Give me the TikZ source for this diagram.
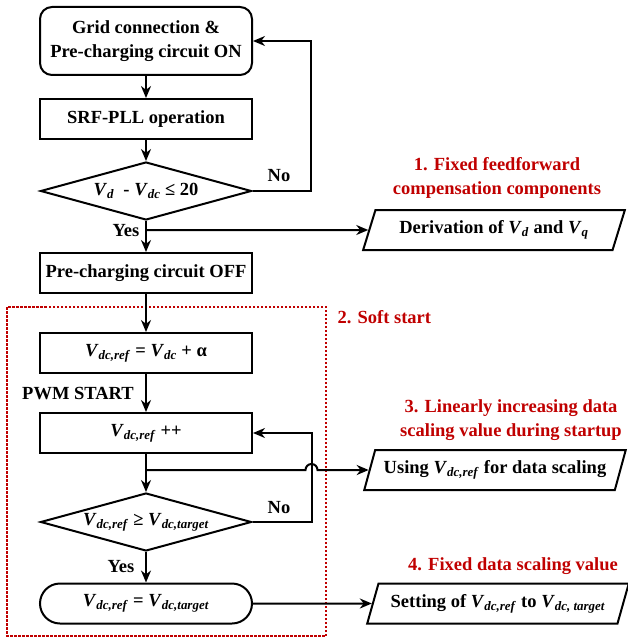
\documentclass[tikz,border=0pt]{standalone}
\usepackage{fontspec}
\setmainfont{Liberation Serif}
\usepackage{tikz}
\usetikzlibrary{arrows.meta,positioning,calc,shapes.geometric}
\definecolor{StepRed}{HTML}{C00000}
\newcommand{\vsub}[2]{\textit{#1}\textsubscript{\textit{#2}}}

\begin{document}
\begin{tikzpicture}[x=1pt,y=-1pt,font=\fontsize{18.5}{24}\selectfont\bfseries,box/.style={draw,line width=2pt,minimum width=212pt,minimum height=40pt,inner sep=1pt,align=center},startbox/.style={box,rounded corners=12pt,minimum height=68pt},endbox/.style={box,rounded corners=20pt},decision/.style={draw,line width=2pt,diamond,aspect=3.6,inner sep=0pt,minimum width=211pt,minimum height=58pt},iobox/.style={draw,line width=2pt,trapezium,trapezium left angle=64,trapezium right angle=116,trapezium stretches=true,minimum width=262pt,minimum height=40pt,inner sep=1pt},note/.style={text=StepRed,align=center},arrow/.style={-{Stealth[length=12pt,width=10pt]},line width=2pt}]
  \useasboundingbox (0,0) rectangle (628,639);
  \node[startbox] (grid) at (146,41) {Grid connection \&\\Pre-charging circuit ON};
  \node[box] (pll) at (146,119) {SRF-PLL operation};
  \node[decision] (chk1) at (146,191) {\vsub{V}{d}\ \ -\ \vsub{V}{dc} ≤\ 20};
  \node[box] (off) at (146,273) {Pre-charging circuit OFF};
  \node[box] (init) at (146,353) {\vsub{V}{dc,ref} = \vsub{V}{dc} + α};
  \node[box] (inc) at (146,433) {\vsub{V}{dc,ref} ++};
  \node[decision] (chk2) at (146,522) {\vsub{V}{dc,ref} ≥\ \vsub{V}{dc,target}};
  \node[endbox] (fix) at (146,603.5) {\vsub{V}{dc,ref} = \vsub{V}{dc,target}};
  \node[iobox] (ff) at (494,230) {Derivation of \vsub{V}{d} and \vsub{V}{q}};
  \node[iobox] (scale) at (495,470) {Using \vsub{V}{dc,ref} for data scaling};
  \node[iobox] (set) at (498,603.5) {Setting of \vsub{V}{dc,ref} to \vsub{V}{dc, target}};
  \node[note] (n1) at (497,178) {1. Fixed feedforward\\compensation components};
  \node[note,anchor=west] (n2) at (334,317) {2. Soft start};
  \node[note] (n3) at (511,420) {3. Linearly increasing data\\scaling value during startup};
  \node[note] (n4) at (513,566) {4. Fixed data scaling value};
  \node (no1) at (279,176) {No};
  \node (yes1) at (126,231) {Yes};
  \node (pwm) at (78,394) {PWM START};
  \node (no2) at (279,508) {No};
  \node (yes2) at (121,567) {Yes};
  \draw[StepRed,line width=1.3pt,dash pattern=on 2.5pt off 1.5pt] (7,307) rectangle (326,636);
  \draw[arrow] (grid)--(pll);
  \draw[arrow] (pll)--(chk1);
  \draw[arrow] (chk1)--(off);
  \draw[arrow] (chk1.east)--++(58,0)|-(grid.east);
  \coordinate (fork1) at (146,230);
  \draw[arrow] (fork1)--(ff);
  \draw[arrow] (off)--(init);
  \draw[arrow] (init)--(inc);
  \draw[arrow] (inc)--(chk2);
  \path (chk2.east)++(59,0) coordinate (loop2);
  \draw[arrow] (chk2.east)--(loop2)|-(inc.east);
  \coordinate (fork2) at (146,470);
  \coordinate (hop) at (loop2|-fork2);
  \draw[arrow] (fork2)--([xshift=-6pt]hop) arc[start angle=180,end angle=0,radius=6pt]--(scale);
  \draw[arrow] (chk2)--(fix);
  \draw[arrow] (fix)--(set);
\end{tikzpicture}
\end{document}
